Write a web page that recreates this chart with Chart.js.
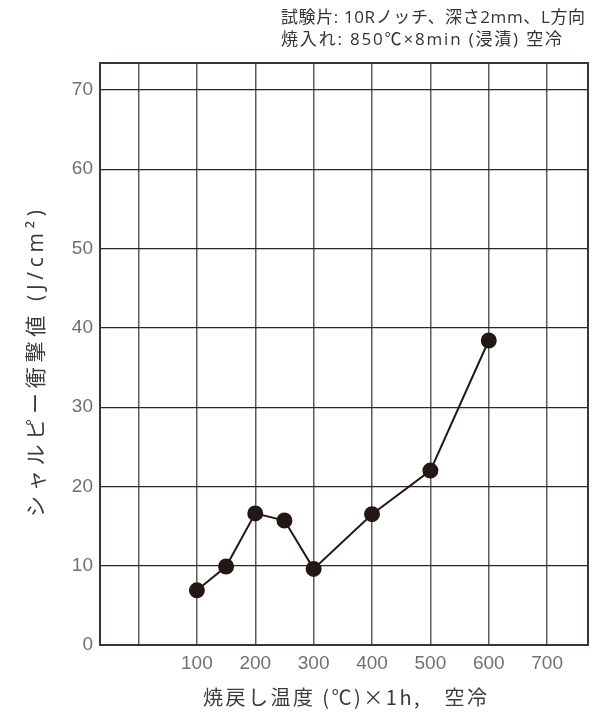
<!DOCTYPE html>
<html>
<head>
<meta charset="utf-8">
<script src="https://cdn.jsdelivr.net/npm/chart.js@4/dist/chart.umd.min.js"></script>
<style>
  html, body { margin: 0; padding: 0; background: #fff; }
  #wrap { width: 592px; height: 712px; }
</style>
</head>
<body>
<div id="wrap"><canvas id="c" width="592" height="712"></canvas></div>
<script>
// Tempering temperature (°C) and Charpy impact value (J/cm²)
const temperatures = [100, 150, 200, 250, 300, 400, 500, 600];
const impactValues = [6.9, 9.9, 16.6, 15.7, 9.6, 16.5, 22.0, 38.4];

// Axis ticks
const xTickValues = [0, 100, 200, 300, 400, 500, 600, 700];
const xTickLabels = ['', '100', '200', '300', '400', '500', '600', '700'];
const yTickValues = [0, 10, 20, 30, 40, 50, 60, 70];

// Axis titles
const xTitle = '焼戻し温度 (℃)×1h,　空冷';
const yTitle = 'シャルピー衝撃値 (J/cm²)';

// Test condition notes shown at the top right
const noteLines = [
  '試験片: 10Rノッチ、深さ2mm、L方向',
  '焼入れ: 850℃×8min (浸漬) 空冷'
];

const INK = '#231815';
const JP = '"Open Sans", "Noto Sans CJK JP", sans-serif';
const JP_FULL = '"Noto Sans CJK JP", sans-serif';
const NUM = '"Liberation Sans Narrow", "Liberation Sans", sans-serif';

// Draws a string tracked so that it spans the given width
function spacedText(ctx, text, x, y, width, align) {
  ctx.letterSpacing = '0px';
  const natural = ctx.measureText(text).width;
  const n = [...text].length;
  const gap = (width - natural) / (n - 1);
  ctx.letterSpacing = gap + 'px';
  ctx.textAlign = 'left';
  const startX = align === 'center' ? x - width / 2 : x;
  ctx.fillText(text, startX, y);
}

// Frame around the plot area, notes block and axis titles
const decorPlugin = {
  id: 'decor',
  beforeDraw(chart) {
    const { ctx, chartArea: a } = chart;
    ctx.save();
    ctx.textBaseline = 'middle';

    ctx.fillStyle = '#333';
    ctx.font = '400 17px ' + JP;
    spacedText(ctx, noteLines[0], 281, 18, 304, 'left');
    spacedText(ctx, noteLines[1], 281, 40, 281, 'left');

    ctx.fillStyle = '#3a3a3a';
    ctx.font = '400 20px ' + JP_FULL;
    spacedText(ctx, xTitle, (a.left + a.right) / 2 + 1, 697, 284, 'center');

    ctx.font = '400 21px ' + JP;
    ctx.translate(37, 363.5);
    ctx.rotate(-Math.PI / 2);
    spacedText(ctx, yTitle, 0, 0, 307, 'center');
    ctx.restore();
  },
  afterDraw(chart) {
    const { ctx, chartArea: a } = chart;
    ctx.save();
    ctx.strokeStyle = '#3a3534';
    ctx.lineWidth = 2;
    ctx.strokeRect(a.left, a.top, a.right - a.left, a.bottom - a.top);
    ctx.restore();
  }
};

new Chart(document.getElementById('c'), {
  type: 'line',
  data: {
    datasets: [{
      data: temperatures.map((t, i) => ({ x: t, y: impactValues[i] })),
      borderColor: INK,
      backgroundColor: INK,
      borderWidth: 2,
      pointRadius: 7,
      pointBackgroundColor: INK,
      pointBorderColor: INK,
      tension: 0
    }]
  },
  options: {
    responsive: false,
    animation: false,
    layout: { autoPadding: false, padding: { top: 63, right: 4, left: 0, bottom: 0 } },
    plugins: { legend: { display: false }, tooltip: { enabled: false }, title: { display: false } },
    scales: {
      x: {
        type: 'linear',
        min: -66,
        max: 770,
        afterBuildTicks(scale) { scale.ticks = xTickValues.map(v => ({ value: v })); },
        afterFit(scale) { scale.height = 67; scale.paddingLeft = 0; scale.paddingRight = 0; },
        border: { display: false },
        grid: { color: '#5f5b5a', lineWidth: 1.5, drawTicks: false },
        ticks: {
          padding: 7,
          color: '#707070',
          font: { family: NUM, size: 19 },
          maxRotation: 0,
          autoSkip: false,
          callback: (v) => xTickLabels[xTickValues.indexOf(v)] ?? ''
        }
      },
      y: {
        min: 0,
        max: 73.4,
        afterBuildTicks(scale) { scale.ticks = yTickValues.map(v => ({ value: v })); },
        afterFit(scale) { scale.width = 100; scale.paddingTop = 0; scale.paddingBottom = 0; },
        border: { display: false },
        grid: { color: '#2b2524', lineWidth: 1.2, drawTicks: false },
        ticks: {
          padding: 7,
          color: '#707070',
          font: { family: NUM, size: 19 },
          autoSkip: false
        }
      }
    }
  },
  plugins: [decorPlugin]
});
</script>
</body>
</html>
